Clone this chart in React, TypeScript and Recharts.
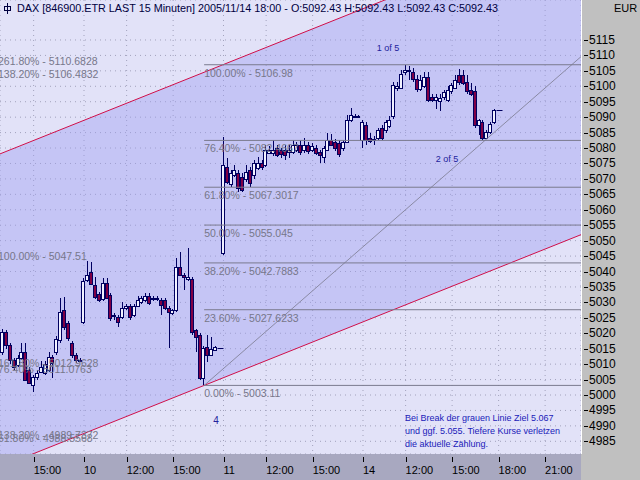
import React from 'react';
import {
  ComposedChart,
  Bar,
  Area,
  Line,
  XAxis,
  YAxis,
  CartesianGrid,
  ReferenceLine,
  ReferenceDot,
} from 'recharts';

const FONT = '"Liberation Sans", Arial, Helvetica, sans-serif';

// ---- 15-minute bars (index: 36 bars per trading day, Nov 9 = day 0) ----
const firstBarIndex = 15;

const opens = [
  // Nov 9
  5013.9, 5020.4, 5016.2, 5011.3, 5009.7, 5012.0, 5014.0, 5008.1, 5003.2, 5005.8, 5007.5,
  5007.1, 5008.1, 5012.3, 5013.9, 5017.8, 5027.5, 5023.3, 5016.8, 5013.0, 5011.5,
  // Nov 10
  5023.6, 5037.3, 5039.8, 5035.6, 5032.7, 5031.1, 5036.3, 5032.4, 5025.6, 5025.3, 5025.3,
  5028.2, 5028.8, 5025.9, 5028.8, 5030.1, 5030.8, 5032.1, 5031.1, 5031.4, 5030.8, 5030.8,
  5028.2, 5026.6, 5027.5, 5041.5, 5038.9, 5037.6, 5037.6, 5021.1, 5019.4, 5005.5, 5015.5,
  5013.0, 5014.5, 5015.2,
  // Nov 11
  5046.0, 5073.9, 5068.4, 5071.3, 5071.9, 5070.6, 5070.0, 5072.9, 5071.3, 5073.5, 5075.0,
  5074.5, 5078.4, 5078.4, 5080.0, 5079.4, 5079.4, 5078.7, 5078.7, 5079.4, 5081.0, 5079.4,
  5081.0, 5079.4, 5080.0, 5078.7, 5077.0, 5079.4, 5082.6, 5082.0, 5081.5, 5080.0, 5082.0,
  5089.1, 5090.2, 5090.4,
  // Nov 14
  5082.6, 5087.5, 5083.3, 5083.0, 5083.3, 5086.5, 5085.8, 5087.0, 5090.4, 5099.5, 5099.5,
  5104.5, 5105.2, 5104.5, 5102.5, 5099.0, 5100.0, 5103.0, 5096.5, 5095.6, 5095.3, 5096.5,
  5095.6, 5098.5, 5099.5, 5103.7, 5103.7, 5101.5, 5098.8, 5098.5, 5087.5, 5088.4, 5083.3,
  5085.2, 5088.4, 5092.43,
];

const highs = [
  5021.5, 5021.0, 5017.0, 5012.0, 5013.0, 5016.8, 5016.8, 5009.0, 5006.5, 5008.0, 5011.0,
  5011.0, 5014.0, 5013.0, 5019.0, 5031.4, 5031.7, 5024.0, 5017.5, 5013.5, 5012.0,
  5037.9, 5043.4, 5043.1, 5038.2, 5033.5, 5037.9, 5037.9, 5033.0, 5026.5, 5026.0, 5030.1,
  5029.5, 5029.5, 5029.5, 5032.0, 5032.0, 5033.0, 5033.0, 5032.0, 5032.0, 5031.5, 5031.5,
  5028.8, 5028.0, 5044.4, 5046.3, 5039.5, 5047.51, 5038.2, 5021.5, 5020.0, 5016.0, 5019.4,
  5018.8, 5015.8, 5015.2,
  5083.6, 5076.8, 5073.0, 5074.5, 5073.0, 5072.0, 5074.5, 5074.0, 5076.0, 5077.0, 5076.0,
  5081.0, 5080.5, 5082.6, 5081.0, 5080.0, 5081.0, 5081.0, 5082.6, 5082.0, 5082.6, 5083.3,
  5082.0, 5081.5, 5081.0, 5079.4, 5080.5, 5085.0, 5084.5, 5083.0, 5082.6, 5082.5, 5090.7,
  5093.0, 5091.0, 5090.6,
  5089.0, 5088.5, 5085.0, 5084.0, 5086.5, 5087.5, 5089.0, 5090.5, 5101.5, 5101.5, 5105.3,
  5106.98, 5106.5, 5106.0, 5103.5, 5103.5, 5104.5, 5104.5, 5097.5, 5097.5, 5097.5, 5098.8,
  5100.0, 5101.0, 5103.5, 5105.5, 5105.2, 5103.7, 5101.0, 5100.0, 5089.5, 5089.0, 5086.0,
  5088.5, 5092.5, 5092.43,
];

const lows = [
  5013.0, 5015.0, 5010.0, 5008.0, 5009.0, 5011.5, 5004.5, 5003.5, 5001.0, 5005.0, 5007.0,
  5006.5, 5007.5, 5005.5, 5013.0, 5017.0, 5021.0, 5017.5, 5012.0, 5010.5, 5010.8,
  5023.0, 5036.5, 5035.5, 5031.0, 5030.1, 5030.5, 5031.0, 5024.0, 5024.3, 5022.0, 5024.5,
  5027.5, 5024.3, 5025.3, 5028.5, 5029.5, 5030.0, 5029.2, 5030.5, 5030.5, 5025.9, 5027.5,
  5015.2, 5026.0, 5027.0, 5038.5, 5034.0, 5037.0, 5019.5, 5013.9, 5005.0, 5003.11, 5010.7,
  5012.5, 5014.2, 5015.2,
  5045.5, 5068.5, 5067.5, 5070.5, 5065.8, 5065.8, 5069.0, 5067.4, 5070.0, 5073.0, 5073.0,
  5074.0, 5078.0, 5077.5, 5077.0, 5076.8, 5076.1, 5076.8, 5078.0, 5078.7, 5077.7, 5078.5,
  5078.0, 5078.7, 5077.7, 5075.2, 5075.2, 5079.0, 5080.5, 5079.0, 5077.0, 5079.0, 5081.5,
  5088.5, 5089.8, 5090.3,
  5080.0, 5081.0, 5081.5, 5081.0, 5082.5, 5082.5, 5085.0, 5086.5, 5089.5, 5098.5, 5099.0,
  5103.5, 5102.0, 5101.5, 5098.0, 5098.5, 5099.5, 5095.0, 5095.0, 5092.5, 5092.0, 5095.5,
  5095.0, 5097.5, 5099.0, 5100.5, 5100.5, 5097.5, 5097.0, 5086.5, 5084.2, 5082.5, 5083.0,
  5084.5, 5087.8, 5092.43,
];

const closes = [
  5020.4, 5016.2, 5011.3, 5009.1, 5012.0, 5014.0, 5004.9, 5003.9, 5005.8, 5007.1, 5009.1,
  5010.0, 5012.3, 5010.4, 5018.1, 5026.9, 5022.0, 5018.5, 5013.0, 5011.3, 5011.2,
  5036.9, 5038.9, 5036.0, 5031.7, 5030.8, 5036.3, 5031.4, 5024.9, 5025.9, 5023.6, 5028.2,
  5028.8, 5025.3, 5028.8, 5030.8, 5031.4, 5032.1, 5029.8, 5031.4, 5031.1, 5029.2, 5028.2,
  5026.9, 5027.5, 5041.5, 5038.9, 5038.2, 5038.2, 5020.4, 5018.8, 5005.5, 5015.2, 5013.0,
  5014.9, 5015.5, 5015.2,
  5074.5, 5069.0, 5071.9, 5072.9, 5067.1, 5066.4, 5072.2, 5068.7, 5075.2, 5075.2, 5074.0,
  5079.4, 5079.4, 5079.4, 5077.7, 5078.1, 5077.7, 5079.4, 5081.0, 5081.0, 5078.7, 5081.0,
  5079.0, 5080.5, 5078.5, 5077.7, 5080.0, 5082.6, 5081.0, 5080.0, 5078.0, 5082.0, 5089.1,
  5090.7, 5090.5, 5090.4,
  5088.4, 5082.6, 5082.3, 5082.5, 5085.8, 5083.3, 5088.4, 5089.1, 5100.4, 5100.1, 5104.0,
  5105.3, 5104.8, 5102.5, 5099.0, 5102.0, 5103.0, 5095.6, 5095.6, 5096.5, 5096.3, 5098.0,
  5098.8, 5100.4, 5102.0, 5101.5, 5101.0, 5098.5, 5097.5, 5087.5, 5089.1, 5083.3, 5085.2,
  5087.8, 5092.3, 5092.43,
];

// ---- axes ----
const xDomain: [number, number] = [14.32, 164.26];
const yDomain: [number, number] = [4980.89, 5127.95];
const xTickValues = [23, 36, 47, 59, 72, 83, 95, 108, 119, 131, 143, 155];
const xTickLabels = ['15:00', '10', '12:00', '15:00', '11', '12:00', '15:00', '14', '12:00', '15:00', '18:00', '21:00'];
const yTickValues = [
  4985, 4990, 4995, 5000, 5005, 5010, 5015, 5020, 5025, 5030, 5035, 5040, 5045, 5050,
  5055, 5060, 5065, 5070, 5075, 5080, 5085, 5090, 5095, 5100, 5105, 5110, 5115,
];

// ---- trend channel (red) and grey trend line ----
const channelIdx = [14.32, 164.26];
const channelLower = [4976.66, 5051.93];
const channelUpper = [5078.1, 5153.37];
const trendIdx = [67, 164.26];
const trendValues = [5003.11, 5109.6];

// ---- Fibonacci retracement (right, with lines) ----
const fibStartIdx = 67;
const fibPercents = ['100.00%', '76.40%', '61.80%', '50.00%', '38.20%', '23.60%', '0.00%'];
const fibValues = [5106.98, 5082.4667, 5067.3017, 5055.045, 5042.7883, 5027.6233, 5003.11];

// ---- older Fibonacci labels (left edge) ----
const oldFibPercents = ['261.80%', '138.20%', '100.00%', '161.80%', '76.40%', '138.20%', '61.80%'];
const oldFibValues = [5110.6828, 5106.4832, 5047.51, 5012.9628, 5011.0763, 4989.7372, 4988.5568];

// ---- wave count annotations ----
const waveText = ['1 of 5', '2 of 5', '4'];
const waveIdx = [114.45, 129.68, 70.06];
const wavePrice = [5112.4, 5076.45, 4991.58];
const waveSize = [9, 9, 10];

const noteLines = [
  'Bei Break der grauen Linie Ziel 5.067',
  'und ggf. 5.055. Tiefere Kurse verletzen',
  'die aktuelle Zählung.',
];
const noteIdx = 118.84;
const notePrice = 4992.87;

const TITLE = 'DAX [846900.ETR LAST 15 Minuten] 2005/11/14 18:00 - O:5092.43 H:5092.43 L:5092.43 C:5092.43';

const CandleShape = (props: any) => {
  const { x, y, width, height, payload } = props;
  if (x == null || y == null || !payload) return null;
  const { open, high, low, close } = payload;
  const top = Math.min(y, y + (height || 0));
  const h = Math.abs(height || 0);
  const ppp = high > low ? h / (high - low) : 0;
  const py = (v: number) => top + (high - v) * ppp;
  const cx = Math.floor(x + width / 2) + 0.5;
  const stroke = '#000060';
  if (high === low) {
    const yy = Math.round(top) + 0.5;
    return <line x1={cx - 2} x2={cx + 4} y1={yy} y2={yy} stroke={stroke} strokeWidth={1} />;
  }
  const up = close >= open;
  const bTop = Math.round(py(Math.max(open, close)));
  const bBot = Math.round(py(Math.min(open, close)));
  return (
    <g>
      <line x1={cx} x2={cx} y1={Math.round(top)} y2={Math.round(top + h)} stroke={stroke} strokeWidth={1} />
      <rect
        x={cx - 2}
        y={bTop + 0.5}
        width={3}
        height={Math.max(1, bBot - bTop)}
        fill={up ? '#f2f2ff' : '#800044'}
        stroke={stroke}
        strokeWidth={1}
      />
    </g>
  );
};

const XTick = (props: any) => {
  const { x, y, payload } = props;
  const i = xTickValues.indexOf(payload.value);
  const xx = Math.round(x) + 0.5;
  return (
    <g>
      <line x1={xx} x2={xx} y1={y + 3} y2={y + 8} stroke="#000" strokeWidth={1} />
      <text x={x} y={y + 20} fontSize={11} fontFamily={FONT} fill="#000" textAnchor="start">
        {i >= 0 ? xTickLabels[i] : ''}
      </text>
    </g>
  );
};

const YTick = (props: any) => {
  const { x, y, payload } = props;
  const yy = Math.round(y) + 0.5;
  return (
    <g>
      <line x1={x + 3} x2={x + 7} y1={yy} y2={yy} stroke="#000" strokeWidth={1} />
      <text x={x + 8} y={y + 4} fontSize={12} fontFamily={FONT} fill="#000" textAnchor="start">
        {payload.value}
      </text>
    </g>
  );
};

const makeFibLabel = (text: string, dx: number) => (p: any) => (
  <text x={p.cx + dx} y={p.cy + 12} fontSize={10.5} fontFamily={FONT} fill="#77778a" textAnchor="start">
    {text}
  </text>
);

const makeWaveLabel = (text: string, size: number) => (p: any) => (
  <text x={p.cx} y={p.cy} fontSize={size} fontFamily={FONT} fill="#22229c" textAnchor="middle" dominantBaseline="central">
    {text}
  </text>
);

const NoteShape = (p: any) => (
  <text x={p.cx} y={p.cy + 3.5} fontSize={9} fontFamily={FONT} fill="#2020b8" textAnchor="start">
    {noteLines.map((line, k) => (
      <tspan key={k} x={p.cx} dy={k === 0 ? 0 : 13}>
        {line}
      </tspan>
    ))}
  </text>
);

export default function App() {
  const candles = opens.map((o, k) => ({
    idx: firstBarIndex + k,
    open: o,
    high: highs[k],
    low: lows[k],
    close: closes[k],
    range: [lows[k], highs[k]],
  }));
  const channel = channelIdx.map((i, k) => ({
    idx: i,
    lower: channelLower[k],
    upper: channelUpper[k],
    band: [channelLower[k], channelUpper[k]],
  }));
  const trend = trendIdx.map((i, k) => ({ idx: i, value: trendValues[k] }));

  return (
    <div style={{ position: 'absolute', left: 0, top: 0, width: 640, height: 480, background: '#c0c0c0', overflow: 'hidden' }}>
      <div style={{ position: 'absolute', left: 0, top: 454, width: 581, height: 26, background: '#a8a8c0' }} />
      <div style={{ position: 'absolute', left: 0, top: 0 }}>
        <ComposedChart width={640} height={480} data={candles} margin={{ top: 0, right: 0, bottom: 0, left: 0 }}>
          <CartesianGrid fill="#e2e2f8" stroke="#a2a2bc" strokeDasharray="1 4" />
          <XAxis
            dataKey="idx"
            type="number"
            domain={xDomain}
            allowDataOverflow
            ticks={xTickValues}
            interval={0}
            tick={XTick}
            tickLine={false}
            axisLine={false}
            tickSize={0}
            tickMargin={0}
            height={26}
          />
          <YAxis
            orientation="right"
            type="number"
            domain={yDomain}
            allowDataOverflow
            ticks={yTickValues}
            interval={0}
            tick={YTick}
            tickLine={false}
            axisLine={false}
            tickSize={0}
            tickMargin={0}
            width={59}
          />
          <Area
            data={channel}
            dataKey="band"
            type="linear"
            fill="#9a9af0"
            fillOpacity={0.4}
            stroke="none"
            isAnimationActive={false}
            activeDot={false}
          />
          <Line data={channel} dataKey="upper" type="linear" stroke="#d0104a" strokeWidth={1} dot={false} activeDot={false} isAnimationActive={false} />
          <Line data={channel} dataKey="lower" type="linear" stroke="#d0104a" strokeWidth={1} dot={false} activeDot={false} isAnimationActive={false} />
          <Line data={trend} dataKey="value" type="linear" stroke="#8a8aa4" strokeWidth={1} dot={false} activeDot={false} isAnimationActive={false} />
          {fibValues.map((v, k) => (
            <ReferenceLine
              key={'fl' + k}
              segment={[{ x: fibStartIdx, y: v }, { x: xDomain[1], y: v }]}
              stroke="#7a7a8e"
              strokeWidth={1}
              ifOverflow="visible"
            />
          ))}
          <Bar dataKey="range" barSize={3} shape={CandleShape} isAnimationActive={false} />
          {fibValues.map((v, k) => (
            <ReferenceDot
              key={'fd' + k}
              x={fibStartIdx}
              y={v}
              r={1}
              ifOverflow="visible"
              shape={makeFibLabel(fibPercents[k] + ' - ' + v, 0)}
            />
          ))}
          {oldFibValues.map((v, k) => (
            <ReferenceDot
              key={'od' + k}
              x={xDomain[0]}
              y={v}
              r={1}
              ifOverflow="visible"
              shape={makeFibLabel(oldFibPercents[k] + ' - ' + v, -2)}
            />
          ))}
          {waveText.map((t, k) => (
            <ReferenceDot
              key={'w' + k}
              x={waveIdx[k]}
              y={wavePrice[k]}
              r={1}
              ifOverflow="visible"
              shape={makeWaveLabel(t, waveSize[k])}
            />
          ))}
          <ReferenceDot x={noteIdx} y={notePrice} r={1} ifOverflow="visible" shape={NoteShape} />
        </ComposedChart>
      </div>
      <div style={{ position: 'absolute', left: 581, top: 0, width: 1, height: 454, background: '#ffffff' }} />
      <svg style={{ position: 'absolute', left: 2, top: 3 }} width={10} height={12}>
        <line x1={5.5} y1={0} x2={5.5} y2={11} stroke="#000040" strokeWidth={1} />
        <rect x={2.5} y={3.5} width={6} height={4} fill="none" stroke="#000040" strokeWidth={1} />
      </svg>
      <div
        style={{
          position: 'absolute',
          left: 17,
          top: 2,
          font: '10.8px ' + FONT,
          lineHeight: '13px',
          color: '#000040',
          whiteSpace: 'nowrap',
        }}
      >
        {TITLE}
      </div>
      <div style={{ position: 'absolute', left: 614, top: 2, font: '11px ' + FONT, lineHeight: '13px', color: '#000' }}>EUR</div>
    </div>
  );
}
